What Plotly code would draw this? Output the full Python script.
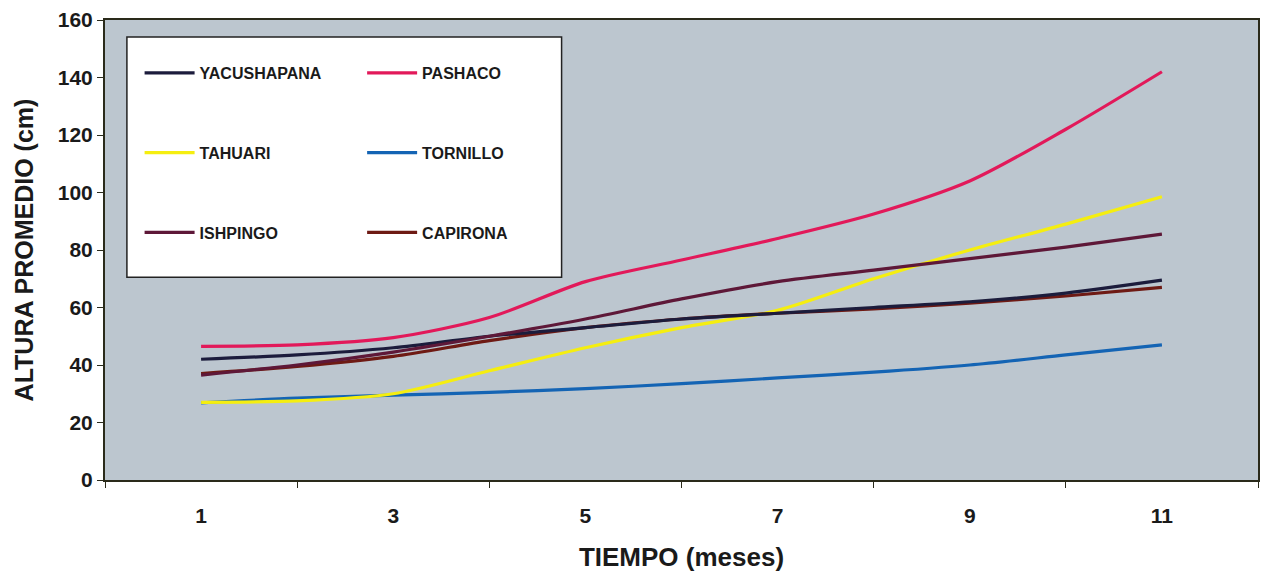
import plotly.graph_objects as go

meses = [1, 2, 3, 4, 5, 6, 7, 8, 9, 10, 11]
x_tick_vals = [1, 3, 5, 7, 9, 11]
x_tick_text = ["1", "3", "5", "7", "9", "11"]
y_tick_vals = [0, 20, 40, 60, 80, 100, 120, 140, 160]

yacushapana = [42, 43.5, 46, 50, 53, 56, 58, 60, 62, 65, 69.5]
pashaco = [46.5, 47, 49.5, 56.5, 69, 76.5, 84, 92.5, 104, 122, 142]
tahuari = [27, 27.5, 30, 38, 46, 53, 59, 70, 80, 89, 98.5]
tornillo = [26.8, 28.5, 29.5, 30.5, 31.8, 33.5, 35.5, 37.5, 40, 43.5, 47]
ishpingo = [36.5, 40, 44.5, 50, 56, 63, 69, 73, 77, 81, 85.5]
capirona = [37, 39.5, 43, 48.5, 53, 56, 58, 59.5, 61.5, 64, 67]

series = [
    ("YACUSHAPANA", yacushapana, "#1c1c3c", "legend", 1),
    ("TAHUARI", tahuari, "#f5ee10", "legend", 2),
    ("ISHPINGO", ishpingo, "#5e1838", "legend", 3),
    ("PASHACO", pashaco, "#e2195a", "legend2", 1),
    ("TORNILLO", tornillo, "#1464b4", "legend2", 2),
    ("CAPIRONA", capirona, "#6e1a14", "legend2", 3),
]

fig = go.Figure()
draw_order = ["TORNILLO", "TAHUARI", "CAPIRONA", "YACUSHAPANA", "ISHPINGO", "PASHACO"]
lookup = {s[0]: s for s in series}
for name in draw_order:
    nm, vals, col, leg, rank = lookup[name]
    fig.add_trace(go.Scatter(
        x=meses, y=vals, mode="lines", name=nm,
        line=dict(color=col, width=3.2, shape="spline", smoothing=0.8),
        legend=leg, legendgroup=nm, legendrank=rank,
    ))

# white legend box
fig.add_shape(type="rect", xref="paper", yref="paper",
              x0=0.019, x1=0.396, y0=0.441, y1=0.963,
              fillcolor="white", line=dict(color="#222222", width=1.5), layer="above")

legend_font = dict(family="Liberation Sans, Arial", size=16, color="#1a1a1a", weight="bold")
common_leg = dict(bgcolor="rgba(0,0,0,0)", borderwidth=0, font=legend_font,
                  tracegroupgap=56, itemwidth=50, yanchor="top", xanchor="left",
                  traceorder="grouped")
fig.update_layout(
    legend=dict(x=0.030, y=0.922, **common_leg),
    legend2=dict(x=0.223, y=0.922, **common_leg),
)

axis_font = dict(family="Liberation Sans, Arial", size=21, color="#1a1a1a", weight="bold")
xtitle_font = dict(family="Liberation Sans, Arial", size=26, color="#1a1a1a", weight="bold")
ytitle_font = dict(family="Liberation Sans, Arial", size=25, color="#1a1a1a", weight="bold")

fig.update_xaxes(
    range=[0, 12], tickmode="array", tickvals=x_tick_vals, ticktext=x_tick_text,
    ticks="", tickfont=axis_font, showgrid=False, zeroline=False,
    ticklabelstandoff=16,
    showline=True, linecolor="#2a2a1a", linewidth=2, mirror=True,
    minor=dict(tickmode="array", tickvals=[0, 2, 4, 6, 8, 10, 12], ticks="outside",
               ticklen=6, tickcolor="#2a2a1a", tickwidth=1, showgrid=False),
    title=dict(text="TIEMPO (meses)", font=xtitle_font, standoff=22),
)
fig.update_yaxes(
    range=[0, 160], tickmode="array", tickvals=y_tick_vals,
    ticks="outside", ticklen=6, tickcolor="#2a2a1a", tickfont=axis_font,
    showgrid=False, zeroline=False,
    showline=True, linecolor="#2a2a1a", linewidth=2, mirror=True,
    title=dict(text="ALTURA PROMEDIO (cm)", font=ytitle_font, standoff=17),
)

fig.update_layout(
    width=1267, height=580,
    margin=dict(l=105, r=7, t=20, b=100),
    paper_bgcolor="white",
    plot_bgcolor="#bcc6cf",
)

fig.write_html("out.html")
